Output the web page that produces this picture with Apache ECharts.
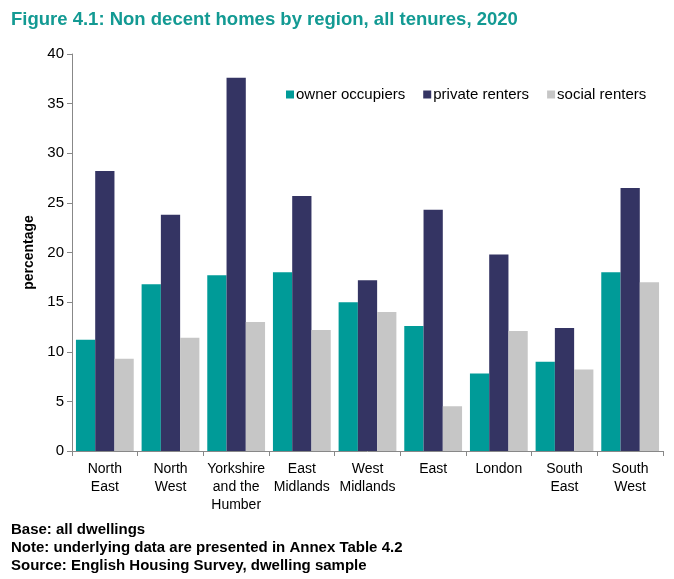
<!DOCTYPE html>
<html>
<head>
<meta charset="utf-8">
<script src="https://cdn.jsdelivr.net/npm/echarts@6/dist/echarts.min.js"></script>
<style>
  html, body { margin: 0; padding: 0; background: #fff; }
  #main { width: 674px; height: 579px; }
</style>
</head>
<body>
<div id="main"></div>
<script>
// regions and values
var regions = ['North\nEast', 'North\nWest', 'Yorkshire\nand the\nHumber', 'East\nMidlands', 'West\nMidlands', 'East', 'London', 'South\nEast', 'South\nWest'];
var ownerOccupiers = [11.2, 16.8, 17.7, 18.0, 15.0, 12.6, 7.8, 9.0, 18.0];
var privateRenters = [28.2, 23.8, 37.6, 25.7, 17.2, 24.3, 19.8, 12.4, 26.5];
var socialRenters  = [9.3, 11.4, 13.0, 12.2, 14.0, 4.5, 12.1, 8.2, 17.0];
var seriesNames = ['owner occupiers', 'private renters', 'social renters'];
var colors = ['#009b98', '#343463', '#c6c6c6'];

var dom = document.getElementById('main');
var myChart = echarts.init(dom);
var option = {
  animation: false,
  color: colors,
  textStyle: { fontFamily: 'Liberation Sans, Arial, sans-serif' },
  title: [
    {
      text: 'Figure 4.1: Non decent homes by region, all tenures, 2020',
      left: 6, top: 5,
      textStyle: { color: '#139a93', fontSize: 18.5, fontWeight: 'bold' }
    },
    {
      text: 'Base: all dwellings\nNote: underlying data are presented in Annex Table 4.2\nSource: English Housing Survey, dwelling sample',
      left: 6, top: 516,
      textStyle: { color: '#000', fontSize: 15, fontWeight: 'bold', lineHeight: 18 }
    }
  ],
  legend: {
    left: 281, top: 82,
    itemWidth: 8, itemHeight: 8, itemGap: 18,
    icon: 'rect',
    textStyle: { fontSize: 15, color: '#000', padding: [0, 0, 0, -3] },
    data: seriesNames
  },
  grid: { left: 72, right: 11, top: 54, bottom: 128 },
  xAxis: {
    type: 'category',
    data: regions,
    axisLine: { lineStyle: { color: '#888', width: 1 } },
    axisTick: { show: true, length: 5, lineStyle: { color: '#888' } },
    axisLabel: { color: '#000', fontSize: 14, lineHeight: 18, margin: 9, interval: 0 }
  },
  yAxis: {
    type: 'value',
    min: 0, max: 40, interval: 5,
    name: 'percentage',
    nameLocation: 'middle',
    nameGap: 34,
    nameTextStyle: { color: '#000', fontSize: 14, fontWeight: 'bold' },
    axisLine: { show: true, lineStyle: { color: '#888' } },
    axisTick: { show: true, length: 5, lineStyle: { color: '#888' } },
    splitLine: { show: false },
    axisLabel: { color: '#000', fontSize: 15, margin: 8 }
  },
  series: [
    { name: seriesNames[0], type: 'bar', data: ownerOccupiers, barGap: '0%', barCategoryGap: '12%' },
    { name: seriesNames[1], type: 'bar', data: privateRenters, barGap: '0%', barCategoryGap: '12%' },
    { name: seriesNames[2], type: 'bar', data: socialRenters, barGap: '0%', barCategoryGap: '12%' }
  ]
};
if (option && typeof option === 'object') {
  myChart.setOption(option, true);
}
</script>
</body>
</html>
